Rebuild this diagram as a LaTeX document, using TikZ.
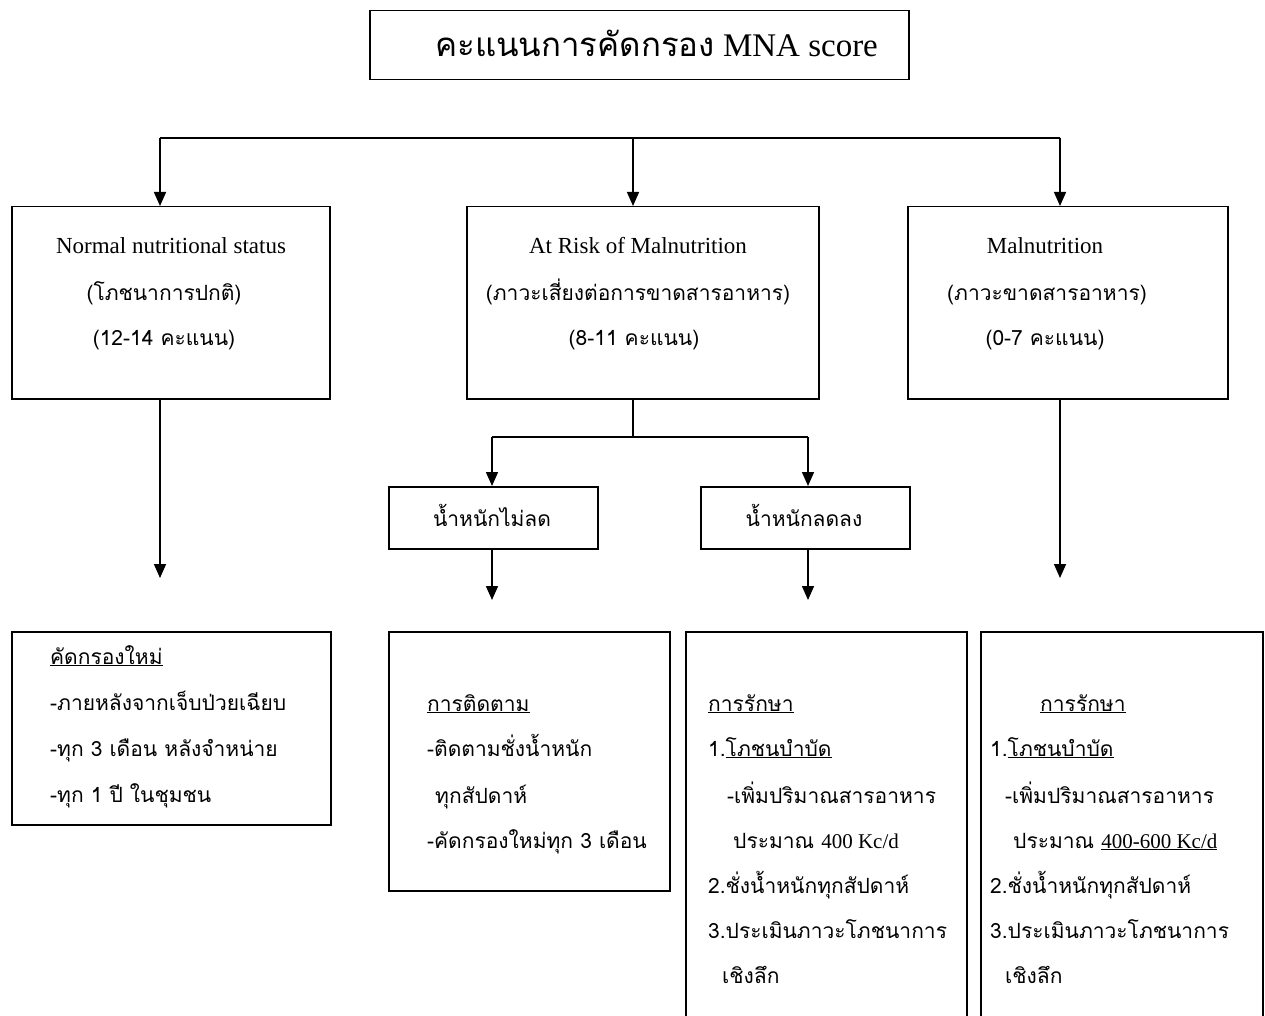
\documentclass[tikz,border=0pt]{standalone}
\usepackage{fontspec}
\setmainfont{Liberation Serif}
\newfontfamily\thf[Script=Thai]{Loma}
\usetikzlibrary{arrows.meta}
\newcommand\thsz{\fontsize{21}{21}\selectfont}
\newcommand\lasz{\fontsize{23}{23}\selectfont}
\begin{document}
\begin{tikzpicture}[x=1pt,y=-1pt,
  box/.style={draw, line width=1.5pt, anchor=north west, inner sep=0pt},
  conn/.style={line width=1.5pt},
  arr/.style={line width=1.5pt, -{Triangle[width=12pt,length=14pt]}},
  lt/.style={anchor=base west, inner sep=0pt, font=\thf\thsz},
  ct/.style={anchor=base, inner sep=0pt, font=\thf\thsz}]
\clip (0,0) rectangle (1265,1016);
\fill[white] (0,0) rectangle (1265,1016);
% title
\node[box, minimum width=539pt, minimum height=69pt] (title) at (369,10) {};
\node[anchor=base west, inner sep=0pt] (titletext) at (435,57) {\fontsize{33}{33}\selectfont{\thf คะแนนการคัดกรอง} MNA score};
% top row
\node[box, minimum width=318pt, minimum height=192pt] (n1) at (11,206) {};
\node[box, minimum width=352pt, minimum height=192pt] (n2) at (466,206) {};
\node[box, minimum width=320pt, minimum height=192pt] (n3) at (907,206) {};
\node[ct, font=\lasz] (n1a) at (171,253) {Normal nutritional status};
\node[ct] (n1b) at (164,300) {(โภชนาการปกติ)};
\node[ct] (n1c) at (164,345) {(12-14 คะแนน)};
\node[ct, font=\lasz] (n2a) at (638,253) {At Risk of Malnutrition};
\node[ct] (n2b) at (638,300) {(ภาวะเสี่ยงต่อการขาดสารอาหาร)};
\node[ct] (n2c) at (634,345) {(8-11 คะแนน)};
\node[ct, font=\lasz] (n3a) at (1045,253) {Malnutrition};
\node[ct] (n3b) at (1047,300) {(ภาวะขาดสารอาหาร)};
\node[ct] (n3c) at (1045,345) {(0-7 คะแนน)};
% bar
\coordinate (bar1) at (160,138);
\coordinate (barm) at (633,138);
\coordinate (bar3) at (1060,138);
\draw[conn] (bar1) -- (bar3);
\draw[arr] (bar1) -- (bar1 |- n1.north);
\draw[arr] (barm) -- (barm |- n2.north);
\draw[arr] (bar3) -- (bar3 |- n3.north);
% weight boxes
\node[box, minimum width=209pt, minimum height=62pt] (w1) at (388,486) {};
\node[box, minimum width=209pt, minimum height=62pt] (w2) at (700,486) {};
\node[ct] (w1t) at (492,526) {น้ำหนักไม่ลด};
\node[ct] (w2t) at (804,526) {น้ำหนักลดลง};
\coordinate (split) at (633,437);
\coordinate (sl) at (492,437);
\coordinate (sr) at (808,437);
\draw[conn] (split |- n2.south) -- (split);
\draw[conn] (sl) -- (sr);
\draw[arr] (sl) -- (sl |- w1.north);
\draw[arr] (sr) -- (sr |- w2.north);
% arrows down
\coordinate (e1) at (160,578);
\coordinate (e3) at (1060,578);
\coordinate (ew1) at (492,600);
\coordinate (ew2) at (808,600);
\draw[arr] (e1 |- n1.south) -- (e1);
\draw[arr] (e3 |- n3.south) -- (e3);
\draw[arr] (ew1 |- w1.south) -- (ew1);
\draw[arr] (ew2 |- w2.south) -- (ew2);
% bottom boxes
\node[box, minimum width=319pt, minimum height=193pt] (ba) at (11,631) {};
\node[box, minimum width=281pt, minimum height=259pt] (bb) at (388,631) {};
\node[box, minimum width=281pt, minimum height=420pt] (bc) at (685,631) {};
\node[box, minimum width=282pt, minimum height=420pt] (bd) at (980,631) {};
% box A text
\node[lt] (a1) at (50,664) {\underline{คัดกรองใหม่}};
\node[lt] (a2) at (50,710) {-ภายหลังจากเจ็บป่วยเฉียบ};
\node[lt] (a3) at (50,756) {-ทุก 3 เดือน หลังจำหน่าย};
\node[lt] (a4) at (50,802) {-ทุก 1 ปี ในชุมชน};
% box B text
\node[lt] (b1) at (427,711) {\underline{การติดตาม}};
\node[lt] (b2) at (427,756) {-ติดตามชั่งน้ำหนัก};
\node[lt] (b3) at (435,803) {ทุกสัปดาห์};
\node[lt] (b4) at (427,848) {-คัดกรองใหม่ทุก 3 เดือน};
% box C text
\node[lt] (c1) at (708,711) {\underline{การรักษา}};
\node[lt] (c2) at (708,756) {1.\underline{โภชนบำบัด}};
\node[lt] (c3) at (727,803) {-เพิ่มปริมาณสารอาหาร};
\node[lt] (c4) at (733,848) {ประมาณ {\rmfamily 400 Kc/d}};
\node[lt] (c5) at (708,893) {2.ชั่งน้ำหนักทุกสัปดาห์};
\node[lt] (c6) at (708,938) {3.ประเมินภาวะโภชนาการ};
\node[lt] (c7) at (722,983) {เชิงลึก};
% box D text
\node[lt] (d1) at (1040,711) {\underline{การรักษา}};
\node[lt] (d2) at (990,756) {1.\underline{โภชนบำบัด}};
\node[lt] (d3) at (1005,803) {-เพิ่มปริมาณสารอาหาร};
\node[lt] (d4) at (1013,848) {ประมาณ {\rmfamily\underline{400-600 Kc/d}}};
\node[lt] (d5) at (990,893) {2.ชั่งน้ำหนักทุกสัปดาห์};
\node[lt] (d6) at (990,938) {3.ประเมินภาวะโภชนาการ};
\node[lt] (d7) at (1005,983) {เชิงลึก};
\end{tikzpicture}
\end{document}
